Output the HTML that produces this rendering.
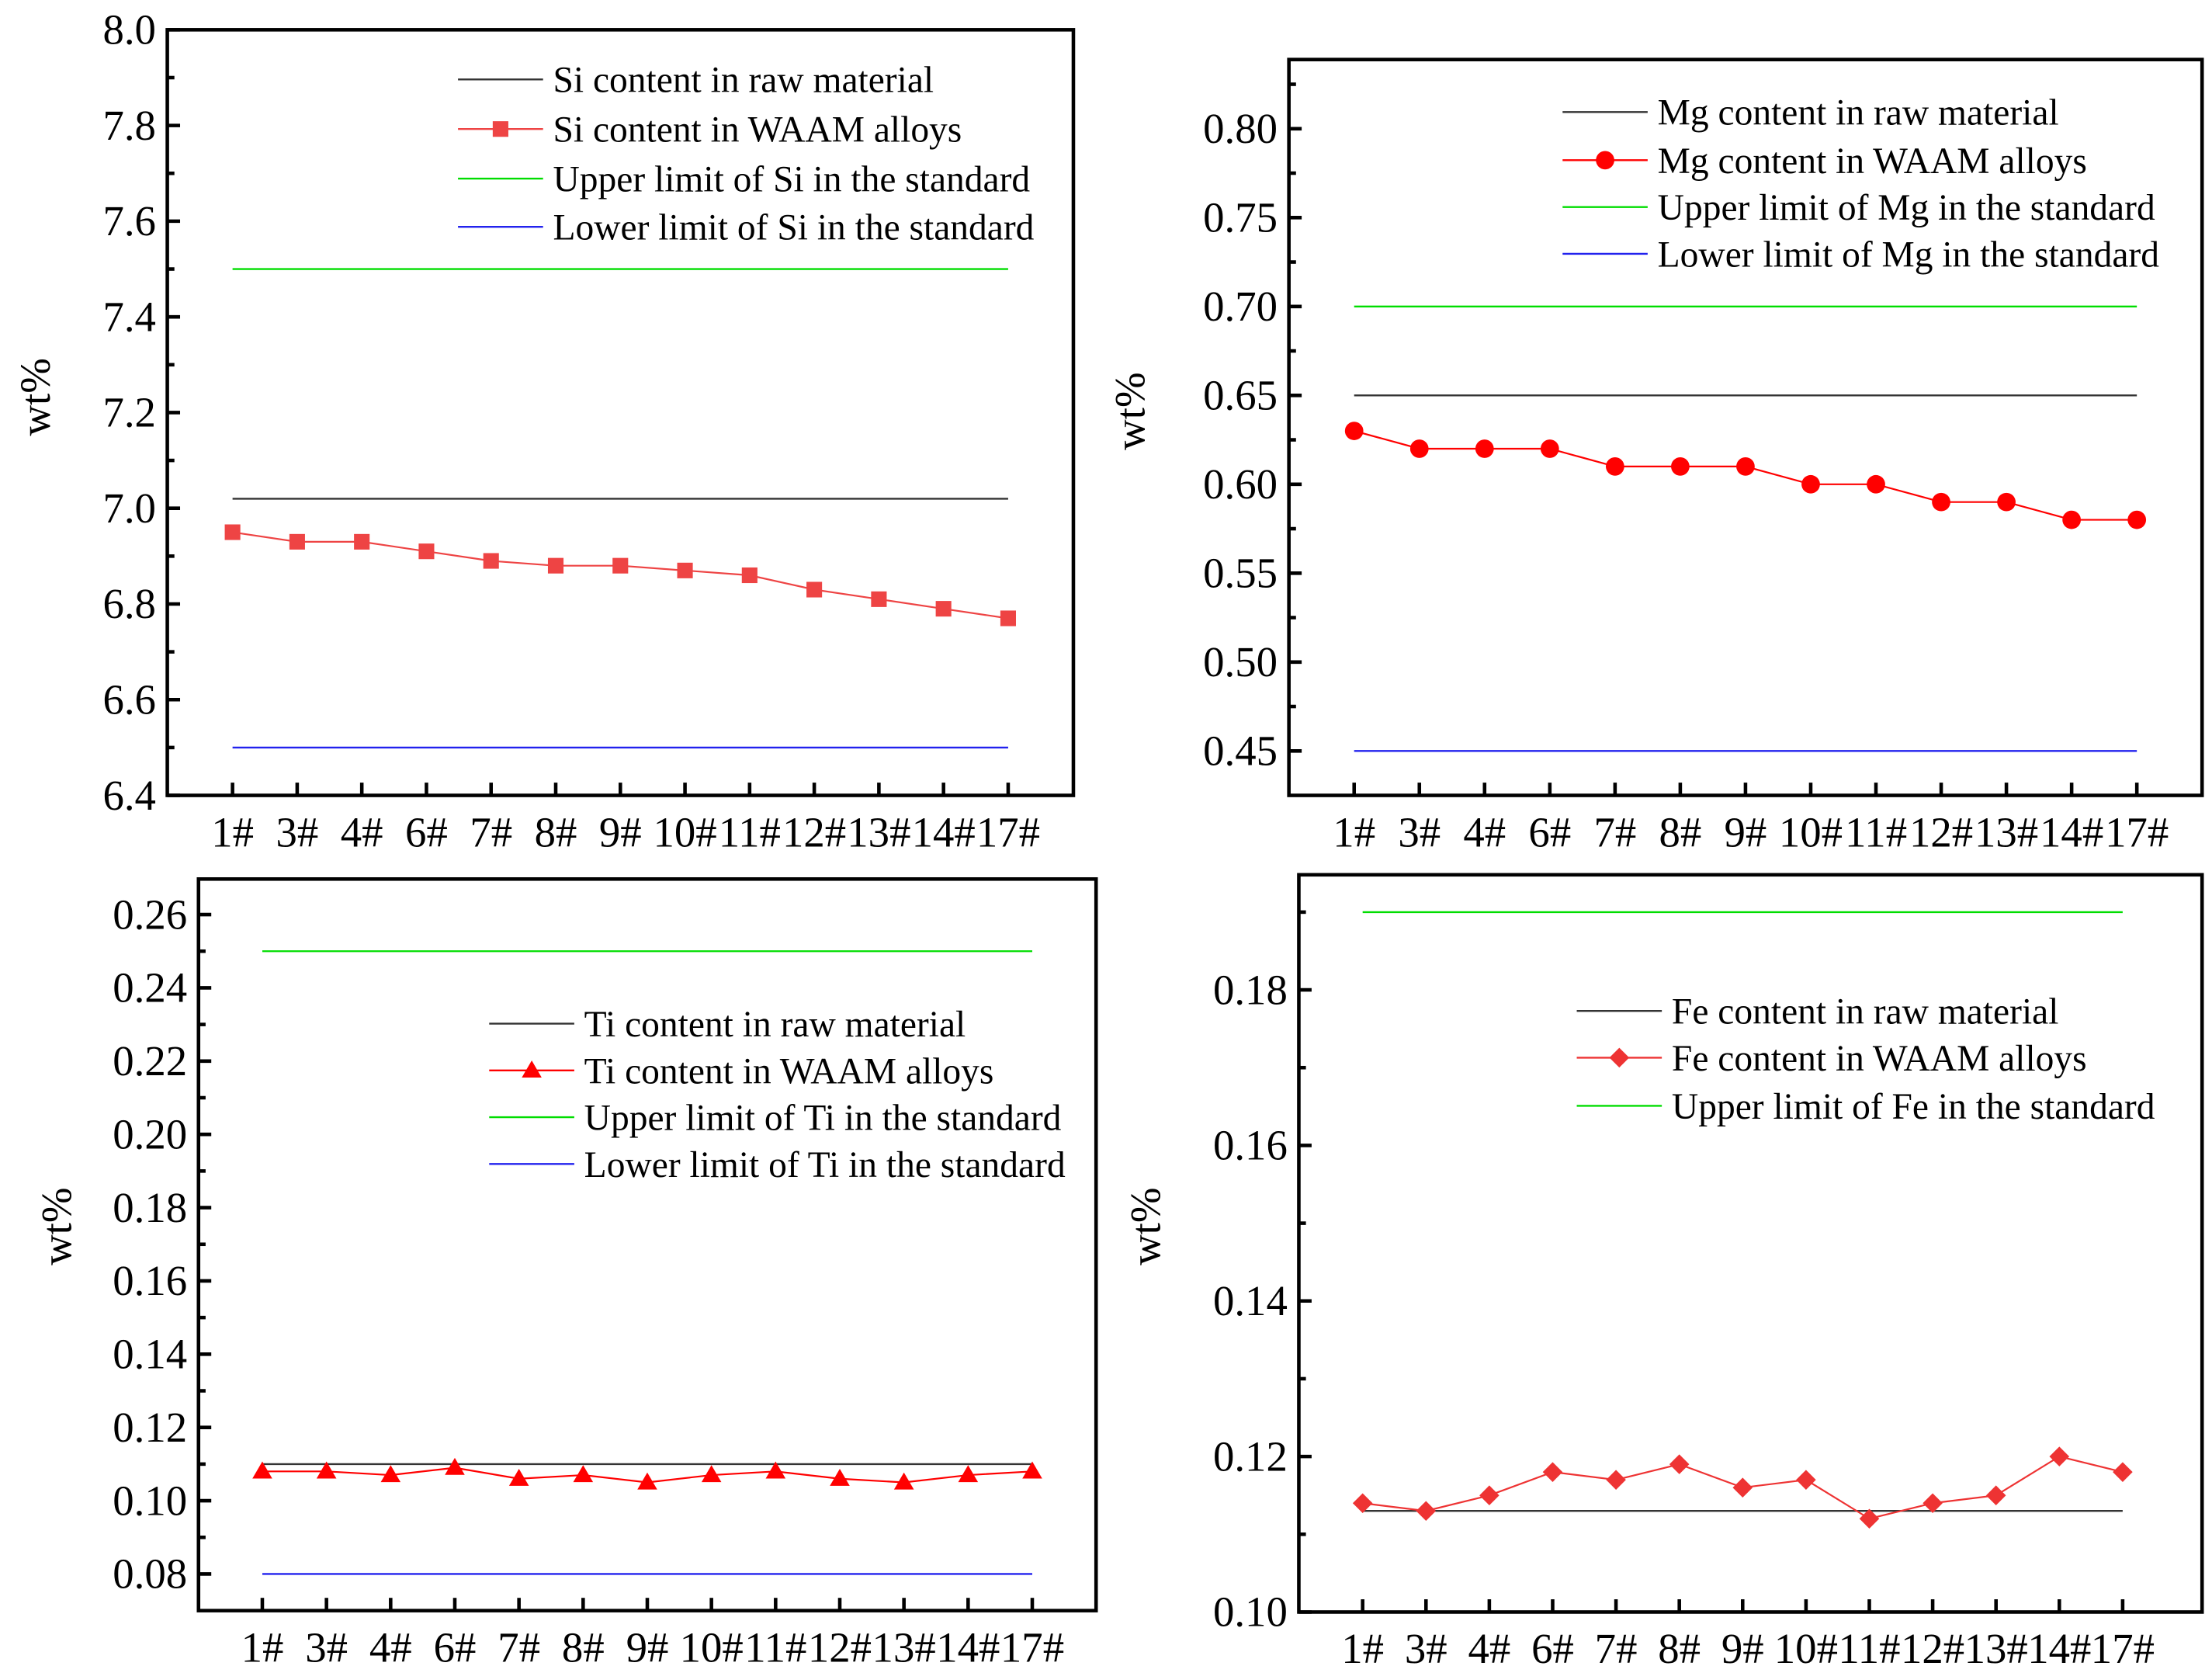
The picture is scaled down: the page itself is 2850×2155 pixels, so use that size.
<!DOCTYPE html>
<html><head><meta charset="utf-8"><style>
html,body{margin:0;padding:0;background:#fff}
svg{display:block}
text{font-family:"Liberation Serif",serif;fill:#000}
</style></head><body>
<svg id="chart" width="2850" height="2155" viewBox="0 0 1560 1180" preserveAspectRatio="none" xmlns="http://www.w3.org/2000/svg"></svg>
<script>
const categories = ["1#","3#","4#","6#","7#","8#","9#","10#","11#","12#","13#","14#","17#"];
const siValues = [6.95,6.93,6.93,6.91,6.89,6.88,6.88,6.87,6.86,6.83,6.81,6.79,6.77];
const mgValues = [0.63,0.62,0.62,0.62,0.61,0.61,0.61,0.60,0.60,0.59,0.59,0.58,0.58];
const tiValues = [0.108,0.108,0.107,0.109,0.106,0.107,0.105,0.107,0.108,0.106,0.105,0.107,0.108];
const feValues = [0.114,0.113,0.115,0.118,0.117,0.119,0.116,0.117,0.112,0.114,0.115,0.120,0.118];
const siRefs = [7.02,7.5,6.5];
const mgRefs = [0.65,0.70,0.45];
const tiRefs = [0.11,0.25,0.08];
const feRefs = [0.113,0.19];
const siTicks = ["6.4","6.6","6.8","7.0","7.2","7.4","7.6","7.8","8.0"];
const mgTicks = ["0.45","0.50","0.55","0.60","0.65","0.70","0.75","0.80"];
const tiTicks = ["0.08","0.10","0.12","0.14","0.16","0.18","0.20","0.22","0.24","0.26"];
const feTicks = ["0.10","0.12","0.14","0.16","0.18"];

const NS="http://www.w3.org/2000/svg";
const svg=document.getElementById('chart');
function el(tag,attrs,parent,txt){const e=document.createElementNS(NS,tag);for(const k in attrs)e.setAttribute(k,attrs[k]);if(txt!==undefined)e.textContent=txt;(parent||svg).appendChild(e);return e;}

const panels=[
 {id:'si',box:[118,21,757,561],ymin:6.4,ymax:8.0,x0:164,x1:711,vals:siValues,refs:siRefs,ticks:siTicks,minor:0.1,
  marker:'square',mcol:'#ee4444',ylab:[25,280],
  leg:{x:323,ys:[56,91,126,160],labels:["Si content in raw material","Si content in WAAM alloys","Upper limit of Si in the standard","Lower limit of Si in the standard"]}},
 {id:'mg',box:[909,42,1553,561],ymin:0.425,ymax:0.8389,x0:955,x1:1507,vals:mgValues,refs:mgRefs,ticks:mgTicks,minor:0.025,
  marker:'circle',mcol:'#ff0000',ylab:[797,290],
  leg:{x:1102,ys:[79,113,146,179],labels:["Mg content in raw material","Mg content in WAAM alloys","Upper limit of Mg in the standard","Lower limit of Mg in the standard"]}},
 {id:'ti',box:[140,620,773,1136],ymin:0.07,ymax:0.2697,x0:185,x1:728,vals:tiValues,refs:tiRefs,ticks:tiTicks,minor:0.01,
  marker:'triangle',mcol:'#ff0000',ylab:[40,865],
  leg:{x:345,ys:[722,755,788,821],labels:["Ti content in raw material","Ti content in WAAM alloys","Upper limit of Ti in the standard","Lower limit of Ti in the standard"]}},
 {id:'fe',box:[916,617,1553,1137],ymin:0.10,ymax:0.1948,x0:961,x1:1497,vals:feValues,refs:feRefs,ticks:feTicks,minor:0.01,
  marker:'diamond',mcol:'#ee3333',ylab:[808,865],
  leg:{x:1112,ys:[713,746,780],labels:["Fe content in raw material","Fe content in WAAM alloys","Upper limit of Fe in the standard"]}}
];
const refCols=['#333333','#00dd00','#2222ee'];

function drawMarker(g,type,x,y,col){
 let m;
 if(type==='square') m=el('rect',{x:x-5.5,y:y-5.5,width:11,height:11,fill:col},g);
 else if(type==='circle') m=el('circle',{cx:x,cy:y,r:6.5,fill:col},g);
 else if(type==='triangle') m=el('polygon',{points:`${x},${y-7} ${x-7},${y+5} ${x+7},${y+5}`,fill:col},g);
 else m=el('polygon',{points:`${x},${y-7} ${x+7},${y} ${x},${y+7} ${x-7},${y}`,fill:col},g);
 
 
}

panels.forEach(p=>{
 const [L,T,R,B]=p.box;
 const g=el('g',{});
 
 
 const yS=v=>B-(v-p.ymin)/(p.ymax-p.ymin)*(B-T);
 const xS=i=>p.x0+i*(p.x1-p.x0)/(categories.length-1);
 p.refs.forEach((v,i)=>{
  const l=el('line',{x1:xS(0),x2:xS(categories.length-1),y1:yS(v),y2:yS(v),stroke:refCols[i],'stroke-width':1.3},g);
  
  
 });
 const pts=p.vals.map((v,i)=>xS(i)+','+yS(v)).join(' ');
 const pl=el('polyline',{points:pts,fill:'none',stroke:p.mcol,'stroke-width':1.2},g);
 
 
 p.vals.forEach((v,i)=>drawMarker(g,p.marker,xS(i),yS(v),p.mcol));
 const f=el('rect',{x:L,y:T,width:R-L,height:B-T,fill:'none',stroke:'#000','stroke-width':2.5},g);
 
 
 p.ticks.forEach(t=>{
  const v=parseFloat(t),y=yS(v);
  el('line',{x1:L,x2:L+9,y1:y,y2:y,stroke:'#000','stroke-width':2.5},g);
  const tx=el('text',{x:L-8,y:y+10,'text-anchor':'end','font-size':30},g,t);
  
  
  const mv=v+p.minor;
  if(mv<p.ymax) el('line',{x1:L,x2:L+5,y1:yS(mv),y2:yS(mv),stroke:'#000','stroke-width':2.5},g);
 });
 categories.forEach((c,i)=>{
  const x=xS(i);
  el('line',{x1:x,x2:x,y1:B,y2:B-9,stroke:'#000','stroke-width':2.5},g);
  const tx=el('text',{x:x,y:B+36,'text-anchor':'middle','font-size':30},g,c);
  
  
 });
 const yl=el('text',{x:p.ylab[0],y:p.ylab[1],'text-anchor':'middle','font-size':30,transform:`rotate(-90 ${p.ylab[0]} ${p.ylab[1]})`,dy:10},g,'wt%');
 
 
 const lcols=[refCols[0],p.mcol,refCols[1],refCols[2]];
 p.leg.ys.forEach((y,i)=>{
  const lg=el('g',{},g);
  
  
  el('line',{x1:p.leg.x,x2:p.leg.x+60,y1:y,y2:y,stroke:lcols[i],'stroke-width':1.3},lg);
  if(i===1) drawMarker(lg,p.marker,p.leg.x+30,y,p.mcol);
  el('text',{x:p.leg.x+67,y:y+9,'font-size':26},lg,p.leg.labels[i]);
 });
});
</script>
</body></html>
